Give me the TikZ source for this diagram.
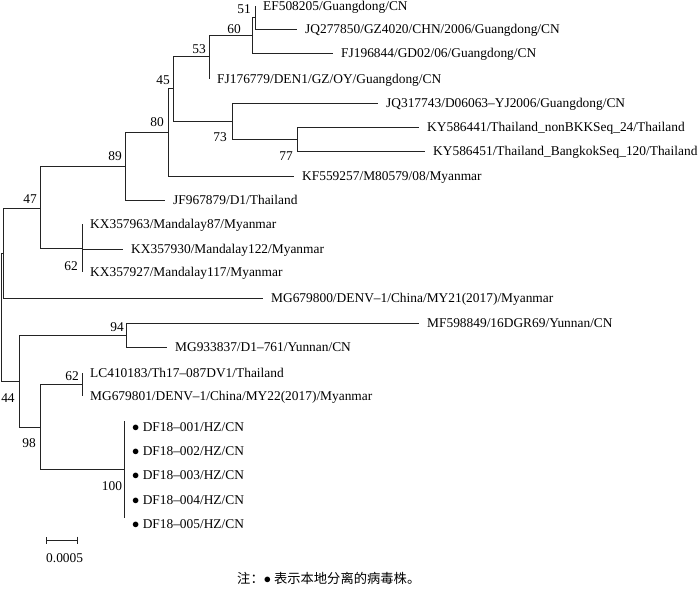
\documentclass[tikz,border=0pt]{standalone}
\usepackage{fontspec}
\setmainfont{Liberation Serif}
\newfontfamily\cjk{Noto Sans CJK SC}
\usepackage{tikz}
\usetikzlibrary{arrows.meta}

\begin{document}
\begin{tikzpicture}[x=1pt, y=-1pt, >=Latex,
    font=\fontsize{13.4}{16}\selectfont,
    rama/.style={draw=Rcolor, line width=0.9pt},
    hoja/.style={anchor=west, inner xsep=8pt, inner ysep=0pt, text height=8.9pt, text depth=0pt},
    soporte/.style={inner sep=0pt, text height=9pt, text depth=0pt}]

    % Color de las ramas
    \definecolor{Rcolor}{RGB}{35,35,35}

    \useasboundingbox (0,0) rectangle (700,593);

    % --- 1. NODOS INTERNOS ---
    \coordinate (raiz) at (1.5,317);
    \coordinate (nA)   at (3.5,253);
    \coordinate (n47)  at (40,208);
    \coordinate (n89)  at (125,166);
    \coordinate (n80)  at (168,132);
    \coordinate (n45)  at (173,88.5);
    \coordinate (n53)  at (209,56);
    \coordinate (n60)  at (252,35);
    \coordinate (n51)  at (255,17.5);
    \coordinate (n73)  at (232,121);
    \coordinate (n77)  at (297,139);
    \coordinate (n62a) at (82,248);
    \coordinate (n44)  at (19,381);
    \coordinate (n94)  at (126,335);
    \coordinate (n98)  at (40,427);
    \coordinate (n62b) at (82,384.5);
    \coordinate (n100) at (124,469.5);

    % --- 2. HOJAS (etiquetas de las cepas) ---
    \node[hoja] (EF)   at (255,6)   {EF508205/Guangdong/CN};
    \node[hoja] (JQa)  at (297,29)  {JQ277850/GZ4020/CHN/2006/Guangdong/CN};
    \node[hoja] (FJa)  at (333,53)  {FJ196844/GD02/06/Guangdong/CN};
    \node[hoja] (FJb)  at (209,79)  {FJ176779/DEN1/GZ/OY/Guangdong/CN};
    \node[hoja] (JQb)  at (378,103) {JQ317743/D06063–YJ2006/Guangdong/CN};
    \node[hoja] (KYa)  at (419,127) {KY586441/Thailand\_nonBKKSeq\_24/Thailand};
    \node[hoja] (KYb)  at (425,151) {KY586451/Thailand\_BangkokSeq\_120/Thailand};
    \node[hoja] (KF)   at (294,176) {KF559257/M80579/08/Myanmar};
    \node[hoja] (JF)   at (165,200) {JF967879/D1/Thailand};
    \node[hoja] (KXa)  at (82,224)  {KX357963/Mandalay87/Myanmar};
    \node[hoja] (KXb)  at (123,249) {KX357930/Mandalay122/Myanmar};
    \node[hoja] (KXc)  at (82,272)  {KX357927/Mandalay117/Myanmar};
    \node[hoja] (MGa)  at (263,298) {MG679800/DENV–1/China/MY21(2017)/Myanmar};
    \node[hoja] (MF)   at (419,323) {MF598849/16DGR69/Yunnan/CN};
    \node[hoja] (MGb)  at (167,347) {MG933837/D1–761/Yunnan/CN};
    \node[hoja] (LC)   at (82,373)  {LC410183/Th17–087DV1/Thailand};
    \node[hoja] (MGc)  at (82,396)  {MG679801/DENV–1/China/MY22(2017)/Myanmar};

    % Cepas locales (con punto)
    \foreach \i/\y in {1/421, 2/445, 3/469.5, 4/494, 5/518} {
        \coordinate (d\i) at (124,\y);
        \node[hoja] (DF\i) at (124,\y+6) {$\bullet$\ DF18–00\i/HZ/CN};
    }

    % --- 3. RAMAS ---
    \foreach \p/\c in {raiz/nA, raiz/n44, nA/n47, nA/MGa,
                       n47/n89, n47/n62a, n89/n80, n89/JF, n80/n45, n80/KF,
                       n45/n53, n45/n73, n53/n60, n53/FJb, n60/n51, n60/FJa,
                       n51/EF, n51/JQa, n73/JQb, n73/n77, n77/KYa, n77/KYb,
                       n62a/KXa, n62a/KXb, n62a/KXc,
                       n44/n94, n44/n98, n94/MF, n94/MGb,
                       n98/n62b, n98/n100, n62b/LC, n62b/MGc} {
        \draw[rama] (\p) |- (\c);
    }
    \foreach \i in {1,...,5} {
        \draw[rama] (n100) |- (d\i);
    }

    % --- 4. VALORES DE BOOTSTRAP ---
    \node[soporte] (bs51)  at (244,9)   {51};
    \node[soporte] (bs60)  at (234,29)  {60};
    \node[soporte] (bs53)  at (199,49)  {53};
    \node[soporte] (bs45)  at (163,80)  {45};
    \node[soporte] (bs80)  at (157,122) {80};
    \node[soporte] (bs73)  at (220,137) {73};
    \node[soporte] (bs77)  at (286,156) {77};
    \node[soporte] (bs89)  at (115,156) {89};
    \node[soporte] (bs47)  at (30,199)  {47};
    \node[soporte] (bs62a) at (71,266)  {62};
    \node[soporte] (bs94)  at (117,327) {94};
    \node[soporte] (bs62b) at (72,376)  {62};
    \node[soporte] (bs44)  at (8,398)   {44};
    \node[soporte] (bs98)  at (29,443)  {98};
    \node[soporte] (bs100) at (112,486) {100};

    % --- 5. ESCALA Y NOTA ---
    \coordinate (escI) at (46,540);
    \coordinate (escD) at (78,540);
    \draw[rama, {Bar[width=7pt]}-{Bar[width=7pt]}] (escI) -- (escD);
    \node[soporte, anchor=west] (esc) at (46,558) {0.0005};

    \node[inner sep=0pt, anchor=west] (nota) at (237,578)
        {\cjk\fontsize{13.3}{16}\selectfont 注：$\bullet$\hspace{3pt}表示本地分离的病毒株。};

\end{tikzpicture}
\end{document}
